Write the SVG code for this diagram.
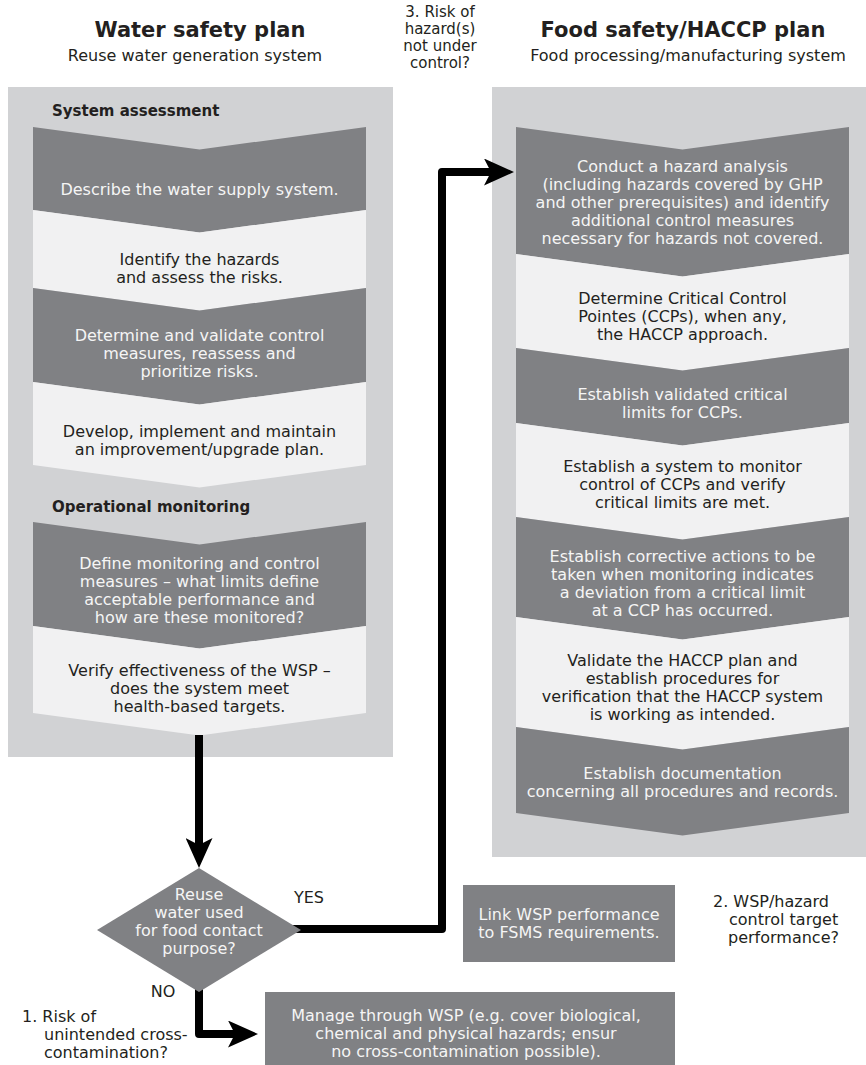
<svg xmlns="http://www.w3.org/2000/svg" width="866" height="1065" viewBox="0 0 866 1065">
<defs>
<style>
text{font-family:"DejaVu Sans","Open Sans",sans-serif;font-size:16px}
.t{text-anchor:middle}
.w{fill:#f5f5f5}
.k{fill:#231f20}
.s{font-size:15px}
.title{font-weight:bold;font-size:21px;fill:#231f20;text-anchor:middle}
.hdr{font-weight:bold;font-size:15px;fill:#231f20}
.panel{fill:#d1d2d4}
.dark{fill:#808184}
.light{fill:#f1f1f2}
.conn{fill:none;stroke:#000;stroke-width:8;stroke-linejoin:round;marker-end:url(#ah)}
</style>
<marker id="ah" viewBox="0 0 30 27" refX="12" refY="13.5" markerWidth="30" markerHeight="27" markerUnits="userSpaceOnUse" orient="auto">
<path d="M0,0 L30,13.5 L0,27 L7,13.5 Z" fill="#000"/>
</marker>
</defs>

<rect width="866" height="1065" fill="#fff"/>

<g id="titles">
<text class="title" x="200" y="37">Water safety plan</text>
<text class="t k" x="195" y="61">Reuse water generation system</text>
<text class="title" x="683" y="37">Food safety/HACCP plan</text>
<text class="t k" x="688" y="61">Food processing/manufacturing system</text>
</g>

<g id="label3">
<text class="t k s" x="440" y="17">3. Risk of</text>
<text class="t k s" x="440" y="34">hazard(s)</text>
<text class="t k s" x="440" y="51">not under</text>
<text class="t k s" x="440" y="68">control?</text>
</g>

<g id="wsp-panel">
<rect class="panel" x="8" y="87" width="385" height="670"/>
<text class="hdr" x="52" y="116">System assessment</text>
<text class="hdr" x="52" y="512">Operational monitoring</text>
</g>

<g id="wsp1">
<polygon class="dark" points="33,127 199.5,149.5 366,127 366,210 199.5,232.5 33,210"/>
<text class="t w" x="199.5" y="195">Describe the water supply system.</text>
</g>
<g id="wsp2">
<polygon class="light" points="33,210 199.5,232.5 366,210 366,288 199.5,310.5 33,288"/>
<text class="t k" x="199.5" y="265">Identify the hazards</text>
<text class="t k" x="199.5" y="283">and assess the risks.</text>
</g>
<g id="wsp3">
<polygon class="dark" points="33,288 199.5,310.5 366,288 366,382 199.5,404.5 33,382"/>
<text class="t w" x="199.5" y="341">Determine and validate control</text>
<text class="t w" x="199.5" y="359">measures, reassess and</text>
<text class="t w" x="199.5" y="377">prioritize risks.</text>
</g>
<g id="wsp4">
<polygon class="light" points="33,382 199.5,404.5 366,382 366,465 199.5,487.5 33,465"/>
<text class="t k" x="199.5" y="437">Develop, implement and maintain</text>
<text class="t k" x="199.5" y="455">an improvement/upgrade plan.</text>
</g>
<g id="wsp5">
<polygon class="dark" points="33,522 199.5,544.5 366,522 366,626 199.5,648.5 33,626"/>
<text class="t w" x="199.5" y="569">Define monitoring and control</text>
<text class="t w" x="199.5" y="587">measures – what limits define</text>
<text class="t w" x="199.5" y="605">acceptable performance and</text>
<text class="t w" x="199.5" y="623">how are these monitored?</text>
</g>
<g id="wsp6">
<polygon class="light" points="33,626 199.5,648.5 366,626 366,713 199.5,735.5 33,713"/>
<text class="t k" x="199.5" y="676">Verify effectiveness of the WSP –</text>
<text class="t k" x="199.5" y="694">does the system meet</text>
<text class="t k" x="199.5" y="712">health-based targets.</text>
</g>

<g id="haccp-panel">
<rect class="panel" x="492" y="87" width="374" height="770"/>
</g>
<g id="haccp1">
<polygon class="dark" points="516,127 682.5,149.5 849,127 849,254 682.5,276.5 516,254"/>
<text class="t w" x="682.5" y="172">Conduct a hazard analysis</text>
<text class="t w" x="682.5" y="190">(including hazards covered by GHP</text>
<text class="t w" x="682.5" y="208">and other prerequisites) and identify</text>
<text class="t w" x="682.5" y="226">additional control measures</text>
<text class="t w" x="682.5" y="244">necessary for hazards not covered.</text>
</g>
<g id="haccp2">
<polygon class="light" points="516,254 682.5,276.5 849,254 849,348 682.5,370.5 516,348"/>
<text class="t k" x="682.5" y="304">Determine Critical Control</text>
<text class="t k" x="682.5" y="322">Pointes (CCPs), when any,</text>
<text class="t k" x="682.5" y="340">the HACCP approach.</text>
</g>
<g id="haccp3">
<polygon class="dark" points="516,348 682.5,370.5 849,348 849,423 682.5,445.5 516,423"/>
<text class="t w" x="682.5" y="400">Establish validated critical</text>
<text class="t w" x="682.5" y="418">limits for CCPs.</text>
</g>
<g id="haccp4">
<polygon class="light" points="516,423 682.5,445.5 849,423 849,517 682.5,539.5 516,517"/>
<text class="t k" x="682.5" y="472">Establish a system to monitor</text>
<text class="t k" x="682.5" y="490">control of CCPs and verify</text>
<text class="t k" x="682.5" y="508">critical limits are met.</text>
</g>
<g id="haccp5">
<polygon class="dark" points="516,517 682.5,539.5 849,517 849,617 682.5,639.5 516,617"/>
<text class="t w" x="682.5" y="562">Establish corrective actions to be</text>
<text class="t w" x="682.5" y="580">taken when monitoring indicates</text>
<text class="t w" x="682.5" y="598">a deviation from a critical limit</text>
<text class="t w" x="682.5" y="616">at a CCP has occurred.</text>
</g>
<g id="haccp6">
<polygon class="light" points="516,617 682.5,639.5 849,617 849,727 682.5,749.5 516,727"/>
<text class="t k" x="682.5" y="666">Validate the HACCP plan and</text>
<text class="t k" x="682.5" y="684">establish procedures for</text>
<text class="t k" x="682.5" y="702">verification that the HACCP system</text>
<text class="t k" x="682.5" y="720">is working as intended.</text>
</g>
<g id="haccp7">
<polygon class="dark" points="516,727 682.5,749.5 849,727 849,813 682.5,835.5 516,813"/>
<text class="t w" x="682.5" y="779">Establish documentation</text>
<text class="t w" x="682.5" y="797">concerning all procedures and records.</text>
</g>

<g id="connectors">
<polyline class="conn" points="199,735 199,850"/>
<polyline class="conn" points="285,929 442,929 442,172 496,172"/>
<polyline class="conn" points="199,980 199,1034 240,1034"/>
</g>

<g id="decision">
<polygon class="dark" points="199,868 301,930 199,992 97,930"/>
<text class="t w" x="199" y="900">Reuse</text>
<text class="t w" x="199" y="918">water used</text>
<text class="t w" x="199" y="936">for food contact</text>
<text class="t w" x="199" y="954">purpose?</text>
</g>

<g id="link-box">
<rect class="dark" x="463" y="885" width="212" height="77"/>
<text class="t w" x="569" y="920">Link WSP performance</text>
<text class="t w" x="569" y="938">to FSMS requirements.</text>
</g>

<g id="manage-box">
<rect class="dark" x="265" y="992" width="410" height="73"/>
<text class="t w" x="466" y="1021">Manage through WSP (e.g. cover biological,</text>
<text class="t w" x="466" y="1039">chemical and physical hazards; ensur</text>
<text class="t w" x="466" y="1057">no cross-contamination possible).</text>
</g>

<g id="labels">
<text class="t k" x="309" y="903">YES</text>
<text class="t k" x="163" y="997">NO</text>
<text class="k" x="22" y="1022">1. Risk of</text>
<text class="k" x="44" y="1040">unintended cross-</text>
<text class="k" x="44" y="1058">contamination?</text>
<text class="k" x="713" y="907">2. WSP/hazard</text>
<text class="k" x="729" y="925">control target</text>
<text class="k" x="728" y="943">performance?</text>
</g>
</svg>
